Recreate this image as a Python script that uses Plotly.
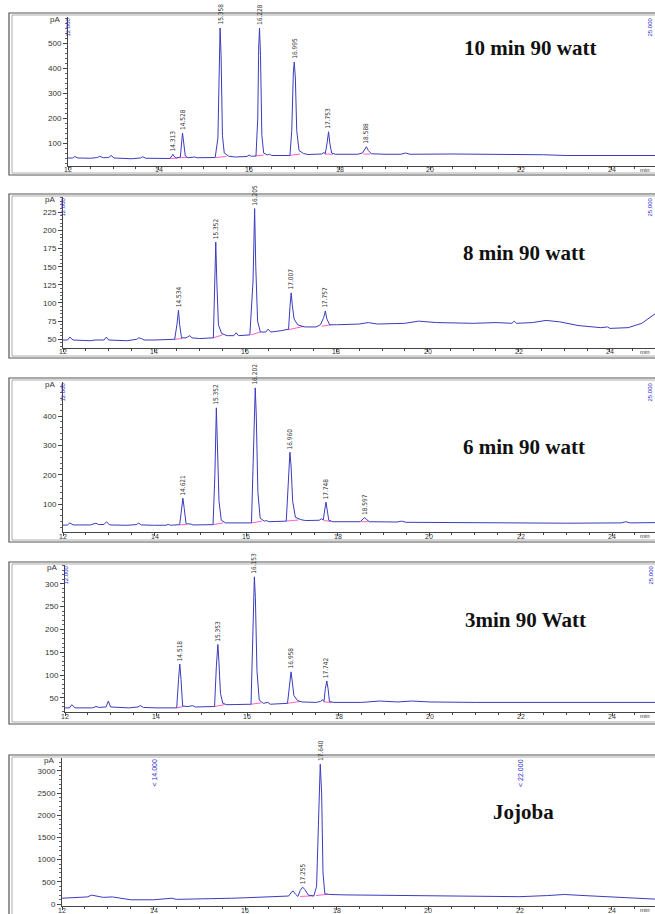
import plotly.graph_objects as go

W, H = 655, 914

# ---------------- data ----------------
titles = ["10 min 90 watt", "8 min 90 watt", "6 min 90 watt", "3min 90 Watt", "Jojoba"]

p1_time = [12.00, 12.10, 12.15, 12.22, 12.50, 12.65, 12.70, 12.78, 12.90, 12.95, 13.02, 13.40, 13.60, 13.65, 13.72,
           14.00, 14.25, 14.30, 14.313, 14.35, 14.40, 14.48, 14.50, 14.528, 14.555, 14.59, 14.65, 14.80, 14.85,
           15.25, 15.31, 15.34, 15.358, 15.38, 15.41, 15.45, 15.55, 15.70, 15.95, 16.00, 16.05, 16.15, 16.19,
           16.21, 16.228, 16.25, 16.28, 16.32, 16.40, 16.45, 16.50, 16.90, 16.94, 16.975, 16.995, 17.02, 17.05,
           17.10, 17.20, 17.30, 17.60, 17.65, 17.68, 17.72, 17.753, 17.78, 17.82, 17.90, 18.40, 18.50, 18.56,
           18.588, 18.63, 18.70, 19.00, 19.35, 19.45, 19.55, 20.50, 22.00, 22.50, 23.00, 24.00, 24.96]
p1_signal = [40, 40, 46, 40, 39, 42, 47, 41, 42, 50, 40, 37, 40, 45, 39,
             37, 38, 50, 55, 45, 40, 44, 100, 140, 100, 48, 41, 44, 41,
             42, 120, 450, 560, 450, 130, 60, 47, 44, 46, 52, 47, 48, 200,
             480, 560, 450, 130, 60, 52, 55, 50, 50, 150, 380, 424, 360, 150,
             70, 58, 54, 56, 62, 57, 100, 145, 100, 60, 55, 55, 60, 80,
             85, 70, 57, 55, 55, 60, 55, 56, 55, 53, 50, 50, 50]

p2_time = [12.00, 12.10, 12.15, 12.22, 12.60, 12.70, 12.90, 12.95, 13.00, 13.40, 13.62, 13.66, 13.72, 13.78, 14.00,
           14.45, 14.50, 14.534, 14.56, 14.60, 14.70, 14.78, 14.83, 15.00, 15.30, 15.33, 15.352, 15.375, 15.41,
           15.48, 15.60, 15.75, 15.80, 15.85, 16.10, 16.17, 16.205, 16.23, 16.27, 16.33, 16.45, 16.50, 16.56,
           16.80, 16.95, 16.98, 17.007, 17.03, 17.07, 17.15, 17.30, 17.55, 17.65, 17.72, 17.757, 17.79, 17.85,
           18.00, 18.50, 18.70, 18.90, 19.50, 19.80, 20.20, 21.00, 21.50, 21.85, 21.90, 21.95, 22.30, 22.60,
           22.90, 23.30, 23.80, 23.95, 24.00, 24.40, 24.70, 24.99]
p2_signal = [49, 49, 53, 49, 48, 49, 49, 53, 49, 48, 50, 52, 51, 49, 49,
             50, 70, 90, 70, 52, 52, 55, 52, 51, 52, 120, 184, 130, 70,
             58, 55, 55, 59, 55, 56, 130, 230, 150, 75, 60, 60, 64, 60,
             62, 64, 95, 114, 98, 78, 70, 67, 67, 70, 80, 89, 78, 70,
             70, 71, 73, 71, 72, 75, 73, 72, 73, 72, 75, 72, 73, 76,
             74, 69, 66, 67, 65, 66, 72, 85]

p3_time = [12.00, 12.10, 12.15, 12.22, 12.60, 12.68, 12.72, 12.78, 12.90, 12.95, 13.02, 13.40, 13.60, 13.65, 13.72,
           14.00, 14.25, 14.30, 14.35, 14.55, 14.59, 14.621, 14.65, 14.69, 14.80, 14.84, 15.28, 15.32, 15.352,
           15.375, 15.41, 15.46, 15.55, 16.12, 16.16, 16.185, 16.202, 16.225, 16.26, 16.31, 16.40, 16.45, 16.50,
           16.88, 16.92, 16.945, 16.96, 16.985, 17.02, 17.08, 17.20, 17.30, 17.60, 17.65, 17.69, 17.72, 17.748,
           17.775, 17.81, 17.90, 18.50, 18.56, 18.597, 18.63, 18.70, 19.30, 19.40, 19.50, 20.50, 22.00, 23.00,
           24.20, 24.30, 24.40, 24.94]
p3_signal = [28, 29, 36, 29, 29, 32, 35, 30, 31, 40, 29, 28, 30, 35, 29,
             28, 28, 31, 28, 30, 90, 120, 85, 33, 32, 29, 30, 200, 428,
             330, 110, 45, 36, 36, 250, 460, 496, 400, 140, 52, 42, 44, 40,
             42, 150, 255, 277, 230, 110, 55, 47, 44, 45, 50, 46, 80, 107,
             80, 45, 40, 40, 50, 54, 48, 40, 39, 42, 38, 37, 36, 35,
             36, 40, 36, 37]

p4_time = [12.00, 12.10, 12.15, 12.22, 12.60, 12.68, 12.75, 12.90, 12.95, 13.00, 13.40, 13.60, 13.65, 13.72, 14.00,
           14.45, 14.49, 14.518, 14.545, 14.58, 14.70, 14.80, 14.86, 15.28, 15.32, 15.353, 15.375, 15.41, 15.46,
           15.55, 16.08, 16.12, 16.14, 16.153, 16.175, 16.21, 16.26, 16.35, 16.45, 16.50, 16.88, 16.92, 16.958,
           16.985, 17.02, 17.10, 17.20, 17.50, 17.60, 17.65, 17.68, 17.71, 17.742, 17.77, 17.80, 17.90, 18.50,
           18.90, 19.30, 19.60, 20.00, 21.00, 22.00, 24.94]
p4_signal = [28, 28, 35, 28, 28, 31, 29, 30, 43, 30, 28, 30, 33, 29, 28,
             28, 90, 124, 90, 32, 31, 33, 30, 31, 120, 167, 130, 60, 38,
             35, 36, 180, 290, 315, 270, 110, 45, 38, 40, 36, 38, 80, 107,
             85, 55, 44, 41, 40, 42, 46, 42, 70, 87, 70, 42, 40, 40,
             43, 41, 43, 41, 40, 40, 40]

p5_time = [12.00, 12.30, 12.55, 12.65, 12.75, 12.90, 13.10, 13.30, 13.50, 14.00, 14.30, 14.40, 14.50, 15.00, 15.50,
           15.70, 16.00, 16.40, 16.80, 16.95, 17.02, 17.05, 17.10, 17.15, 17.20, 17.255, 17.30, 17.38, 17.50,
           17.56, 17.60, 17.64, 17.67, 17.70, 17.74, 17.85, 18.20, 18.60, 19.00, 19.50, 20.00, 21.00, 22.00,
           22.60, 22.97, 23.40, 24.00, 24.50, 24.95]
p5_signal = [130, 140, 160, 200, 185, 150, 160, 120, 95, 95, 110, 130, 105, 110, 120,
             130, 140, 160, 175, 180, 280, 290, 220, 170, 300, 380, 330, 200, 180,
             400, 1800, 3150, 2500, 700, 230, 215, 205, 200, 195, 185, 180, 170, 165,
             190, 215, 190, 160, 130, 110]

# peak labels (retention time text, apex time, apex height)
p1_peak_labels = ["14.313", "14.528", "15.358", "16.228", "16.995", "17.753", "18.588"]
p1_peak_times = [14.313, 14.528, 15.358, 16.228, 16.995, 17.753, 18.588]
p1_peak_heights = [55, 140, 560, 560, 424, 145, 85]

p2_peak_labels = ["14.534", "15.352", "16.205", "17.007", "17.757"]
p2_peak_times = [14.534, 15.352, 16.205, 17.007, 17.757]
p2_peak_heights = [90, 184, 230, 114, 89]

p3_peak_labels = ["14.621", "15.352", "16.202", "16.960", "17.748", "18.597"]
p3_peak_times = [14.621, 15.352, 16.202, 16.960, 17.748, 18.597]
p3_peak_heights = [120, 428, 496, 277, 107, 54]

p4_peak_labels = ["14.518", "15.353", "16.153", "16.958", "17.742"]
p4_peak_times = [14.518, 15.353, 16.153, 16.958, 17.742]
p4_peak_heights = [124, 167, 315, 107, 87]

p5_peak_labels = ["17.255", "17.640"]
p5_peak_times = [17.255, 17.640]
p5_peak_heights = [380, 3150]

# integration baselines (t_start, t_end, y_start, y_end)
p1_baselines = [(14.25, 14.42, 38, 40), (14.45, 14.65, 41, 42), (15.26, 15.50, 42, 46), (16.14, 16.32, 48, 52),
                (16.88, 17.12, 50, 56), (17.68, 17.85, 56, 55), (18.52, 18.68, 56, 56)]
p2_baselines = [(14.45, 14.62, 50, 51), (15.30, 15.50, 52, 56), (16.12, 16.33, 56, 60), (16.93, 17.30, 63, 68),
                (17.68, 17.88, 68, 70)]
p3_baselines = [(14.55, 14.70, 29, 31), (15.28, 15.50, 30, 36), (16.12, 16.35, 36, 42), (16.88, 17.15, 42, 46),
                (17.70, 17.85, 44, 41), (18.52, 18.68, 40, 40)]
p4_baselines = [(14.45, 14.60, 28, 31), (15.28, 15.50, 31, 35), (16.08, 16.30, 36, 39), (16.88, 17.15, 38, 42),
                (17.68, 17.85, 41, 40)]
p5_baselines = [(17.20, 17.50, 170, 185), (17.55, 17.80, 190, 220)]

# event markers (text, time)
p1_events = [("12.000", 12.0), ("25.000", 24.96)]
p2_events = [("12.000", 12.0), ("25.000", 24.99)]
p3_events = [("12.000", 12.0), ("25.000", 24.94)]
p4_events = [("12.000", 12.0), ("25.000", 24.94)]
p5_events = [("< 14.000", 14.0), ("< 22.000", 22.0)]

x_tickvals = [12, 14, 16, 18, 20, 22, 24]
x_ticktext = ["12", "14", "16", "18", "20", "22", "24"]
p1_yticks = [100, 200, 300, 400, 500]
p2_yticks = [50, 75, 100, 125, 150, 175, 200, 225]
p3_yticks = [100, 200, 300, 400]
p4_yticks = [50, 100, 150, 200, 250, 300]
p5_yticks = [0, 500, 1000, 1500, 2000, 2500, 3000]

# ---------------- layout geometry (pixels) ----------------
panels = [
    dict(t=p1_time, s=p1_signal, lab=p1_peak_labels, pt=p1_peak_times, ph=p1_peak_heights, bl=p1_baselines,
         ev=p1_events, yt=p1_yticks, yminor=20, x0=68, top=17, bot=166, xr=[12, 24.96], yr=[8, 604],
         frame=(9, 13, 175), title_xy=(530, 48)),
    dict(t=p2_time, s=p2_signal, lab=p2_peak_labels, pt=p2_peak_times, ph=p2_peak_heights, bl=p2_baselines,
         ev=p2_events, yt=p2_yticks, yminor=5, x0=63, top=197, bot=348, xr=[12, 24.99], yr=[38, 246],
         frame=(9, 194, 358), title_xy=(524, 253)),
    dict(t=p3_time, s=p3_signal, lab=p3_peak_labels, pt=p3_peak_times, ph=p3_peak_heights, bl=p3_baselines,
         ev=p3_events, yt=p3_yticks, yminor=20, x0=63, top=382, bot=532, xr=[12, 24.94], yr=[5, 516],
         frame=(9, 378, 542), title_xy=(524, 447)),
    dict(t=p4_time, s=p4_signal, lab=p4_peak_labels, pt=p4_peak_times, ph=p4_peak_heights, bl=p4_baselines,
         ev=p4_events, yt=p4_yticks, yminor=10, x0=65, top=565, bot=712, xr=[12, 24.94], yr=[19, 341],
         frame=(9, 562, 724), title_xy=(525, 620)),
    dict(t=p5_time, s=p5_signal, lab=p5_peak_labels, pt=p5_peak_times, ph=p5_peak_heights, bl=p5_baselines,
         ev=p5_events, yt=p5_yticks, yminor=100, x0=62, top=758, bot=906, xr=[12, 24.95], yr=[-45, 3291],
         frame=(9, 755, 940), title_xy=(523, 812)),
]


def fx(p):
    return p / W


def fy(p):
    return 1 - p / H


fig = go.Figure()
annotations = []
shapes = []
tick_font = dict(family="Liberation Sans, Arial, sans-serif", size=8, color="#333333")
xtick_font = dict(family="Liberation Sans, Arial, sans-serif", size=7, color="#333333")
label_font = dict(family="Liberation Sans Narrow, DejaVu Sans Condensed, Liberation Sans, sans-serif", size=6.5,
                  color="#333333")
trace_color = "#3b3bbf"

for i, p in enumerate(panels):
    n = i + 1
    xa = "x" if n == 1 else f"x{n}"
    ya = "y" if n == 1 else f"y{n}"
    xkey = "xaxis" if n == 1 else f"xaxis{n}"
    ykey = "yaxis" if n == 1 else f"yaxis{n}"

    # integration baselines (pink)
    bx, by = [], []
    for (t0, t1, y0, y1) in p["bl"]:
        bx += [t0, t1, None]
        by += [y0, y1, None]
    fig.add_trace(go.Scatter(x=bx, y=by, mode="lines", line=dict(color="#ff5fc8", width=1),
                             xaxis=xa, yaxis=ya, showlegend=False, hoverinfo="skip"))
    # chromatogram
    fig.add_trace(go.Scatter(x=p["t"], y=p["s"], mode="lines", line=dict(color=trace_color, width=1),
                             xaxis=xa, yaxis=ya, showlegend=False))

    fig.update_layout({
        xkey: dict(domain=[fx(p["x0"]), 1.0], range=p["xr"], anchor=ya, showline=True, linecolor="#444444",
                   linewidth=1, ticks="outside", ticklen=3, tickcolor="#444444", tickvals=x_tickvals,
                   showticklabels=False, showgrid=False, zeroline=False, automargin=False,
                   minor=dict(dtick=0.5, tick0=12, ticks="outside", ticklen=2, tickcolor="#444444")),
        ykey: dict(domain=[fy(p["bot"]), fy(p["top"])], range=p["yr"], anchor=xa, showline=True,
                   linecolor="#444444", linewidth=1, ticks="outside", ticklen=4, tickcolor="#444444",
                   tickvals=p["yt"], tickfont=tick_font, showgrid=False, zeroline=False, automargin=False,
                   minor=dict(dtick=p["yminor"], ticks="outside", ticklen=2, tickcolor="#666666")),
    })

    # x tick labels placed just under the axis line
    for tv, tt in zip(x_tickvals, x_ticktext):
        annotations.append(dict(x=tv, y=fy(p["bot"] + 4), xref=xa, yref="paper", text=tt, showarrow=False,
                                xanchor="center", yanchor="middle", font=xtick_font))
    # peak labels
    for lab, t, h in zip(p["lab"], p["pt"], p["ph"]):
        annotations.append(dict(x=t, y=h, xref=xa, yref=ya, text=lab, showarrow=False, textangle=-90,
                                xanchor="center", yanchor="bottom", yshift=1, font=label_font))
    # event markers (blue)
    for txt, t in p["ev"]:
        annotations.append(dict(x=t, y=fy(p["top"] - 1), xref=xa, yref="paper", text=txt, showarrow=False,
                                textangle=-90, xanchor="right" if t > 24 else "center", yanchor="top",
                                font=dict(family="Liberation Sans Narrow, Liberation Sans, sans-serif",
                                          size=7 if n == 5 else 6, color="#2b2bd0")))
    # pA label
    annotations.append(dict(x=fx(p["x0"] - 6), y=fy(p["top"] + 2), xref="paper", yref="paper", text="pA",
                            showarrow=False, xanchor="right", yanchor="middle", font=tick_font))
    # min label
    annotations.append(dict(x=fx(645), y=fy(p["bot"] + 4), xref="paper", yref="paper", text="min",
                            showarrow=False, xanchor="center", yanchor="middle",
                            font=dict(family="Liberation Sans, sans-serif", size=6, color="#333333")))
    # title
    tx, ty = p["title_xy"]
    annotations.append(dict(x=fx(tx), y=fy(ty), xref="paper", yref="paper", text="<b>" + titles[i] + "</b>",
                            showarrow=False, xanchor="center", yanchor="middle",
                            font=dict(family="Liberation Serif, Times New Roman, serif", size=21,
                                      color="#111111")))
    # frame (double line)
    fl, ftop, fbot = p["frame"]
    shapes.append(dict(type="rect", xref="paper", yref="paper", x0=fx(fl), x1=1.05, y0=fy(fbot), y1=fy(ftop),
                       line=dict(color="#555555", width=1.2)))
    shapes.append(dict(type="rect", xref="paper", yref="paper", x0=fx(fl + 3), x1=1.05, y0=fy(fbot - 2),
                       y1=fy(ftop + 2), line=dict(color="#9a9a9a", width=0.8)))

fig.update_layout(width=W, height=H, margin=dict(l=0, r=0, t=0, b=0), paper_bgcolor="white",
                  plot_bgcolor="white", annotations=annotations, shapes=shapes, showlegend=False)

fig.write_html("out.html", config={"displayModeBar": False},
               post_script="document.body.style.margin='0';document.body.style.overflow='hidden';")
